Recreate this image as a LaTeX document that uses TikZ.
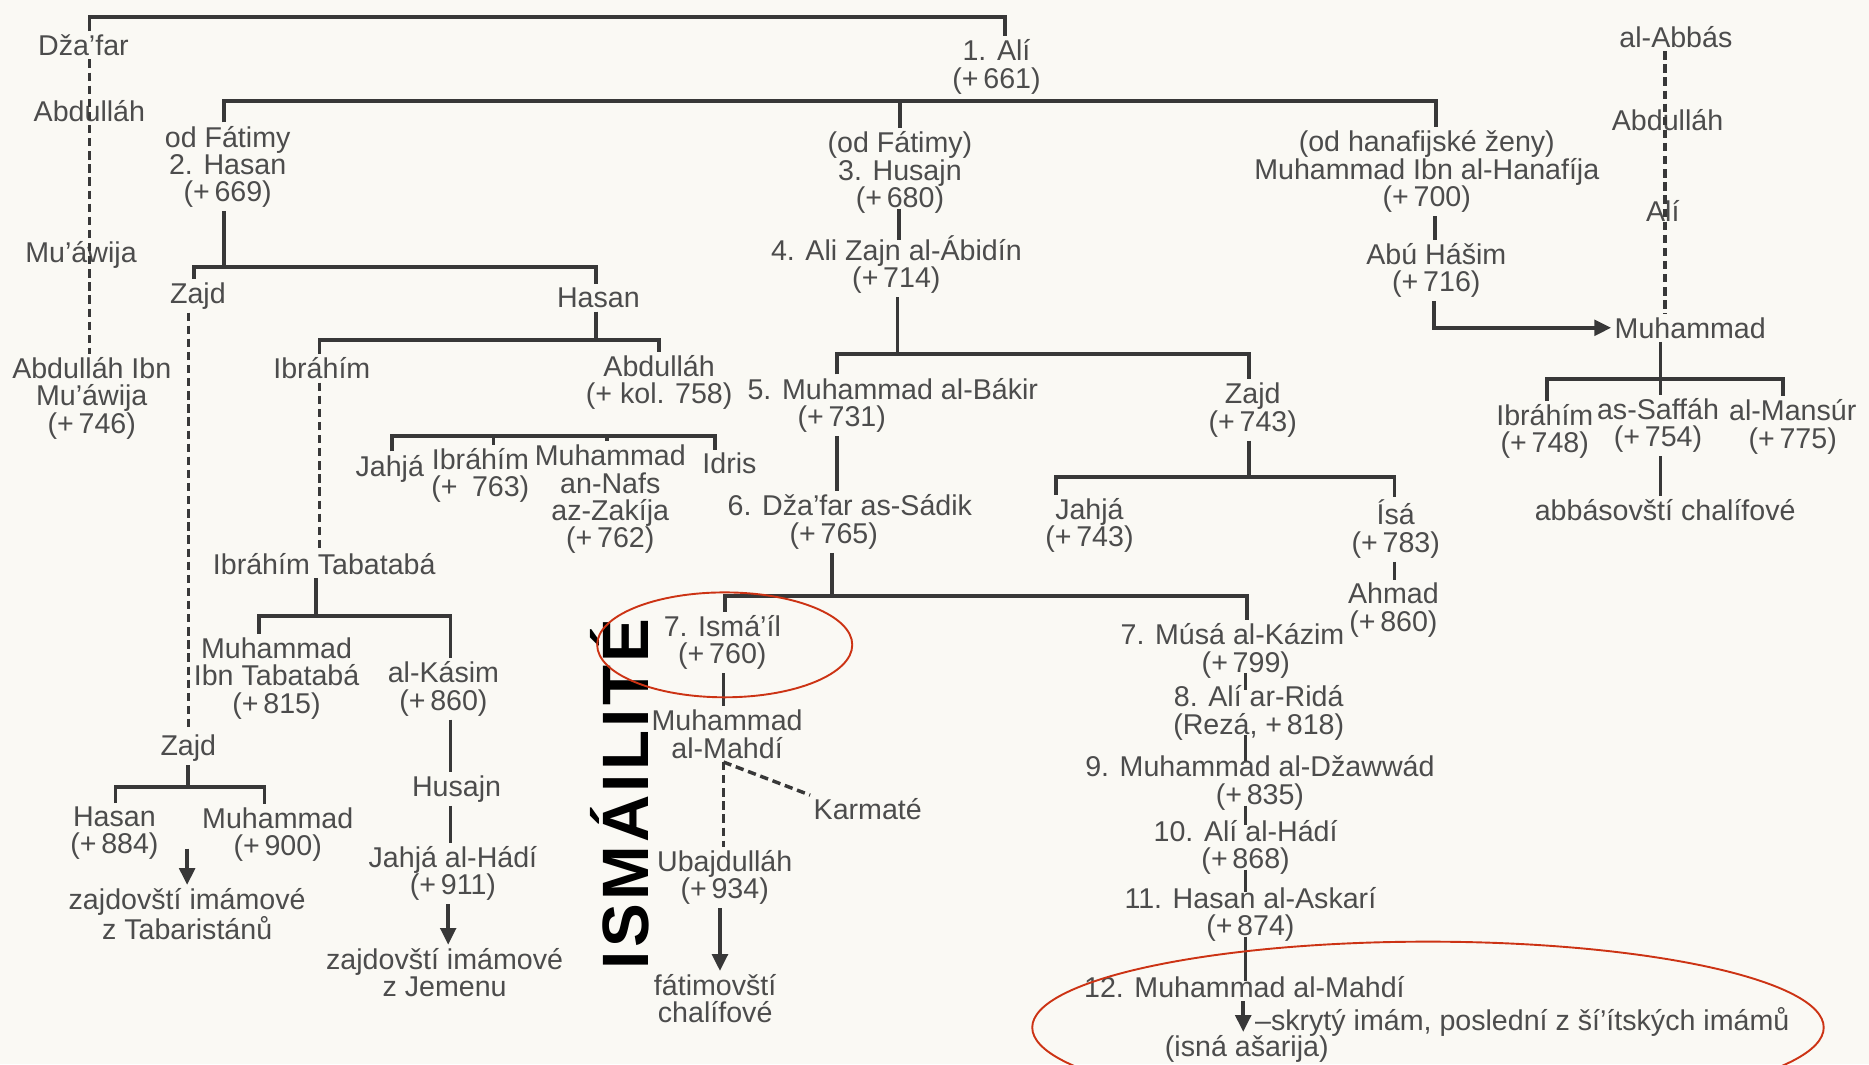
\documentclass[tikz,border=0pt]{standalone}
\usepackage{fontspec}
\setmainfont{Liberation Sans}
\usetikzlibrary{arrows.meta,calc}
\definecolor{ink}{HTML}{4C4C4C}
\definecolor{lin}{HTML}{383838}
\definecolor{paper}{HTML}{FAF9F4}
\definecolor{redl}{HTML}{CC3314}
\begin{document}
\begin{tikzpicture}[x=1pt,y=-1pt,
  every node/.style={font=\fontsize{24}{23}\selectfont, text=ink, inner sep=0pt, outer sep=3pt, align=center},
  ln/.style={draw=lin, line width=3.1pt},
  thru/.style={ln, shorten <=-7pt, shorten >=-7pt},
  dl/.style={draw=lin, line width=2.9pt, dash pattern=on 7pt off 4pt},
  ar/.style={ln, -{Triangle[length=14pt,width=13pt]}},
  ring/.style={draw=redl, line width=1.6pt},
  title/.style={font=\fontsize{55}{55}\selectfont\bfseries\addfontfeatures{LetterSpace=5}, text=black, rotate=90}]
\useasboundingbox (0,0) rectangle (1568,893);
\fill[paper] (0,0) rectangle (1568,893);
\clip (0,0) rectangle (1568,893);

% ---------- nodes ----------
\node (dzafar) at (70,38) {Dža’far};
\node (abd1) at (75,93) {Abdulláh};
\node (muaw) at (68,214) {Mu’áwija};
\node (abdibn) at (77,334) {Abdulláh Ibn\\Mu’áwija\\(+\,746)};

\node (ali) at (836,56) {1. Alí\\(+\,661)};
\node (hasan) at (191,140) {od Fátimy\\2. Hasan\\(+\,669)};
\node (husajn) at (755,145) {(od Fátimy)\\3. Husajn\\(+\,680)};
\node (hanaf) at (1197,144) {(od hanafijské ženy)\\Muhammad Ibn al-Hanafíja\\(+\,700)};

\node (zajd1) at (166,248) {Zajd};
\node (hasanb) at (502,250) {Hasan};
\node (ibr1) at (270,309) {Ibráhím};
\node (abd2) at (553,321) {Abdulláh\\(+ kol. 758)};
\node (jahja1) at (327,393) {Jahjá};
\node (ibr2) at (403,399) {Ibráhím\\(+\enspace 763)};
\node (nafs) at (512,419) {Muhammad\\an-Nafs\\az-Zakíja\\(+\,762)};
\node (idris) at (612,389) {Idris};
\node (tabat) at (272,473) {Ibráhím Tabatabá};
\node (mtab) at (232,569) {Muhammad\\Ibn Tabatabá\\(+\,815)};
\node (kasim) at (372,578) {al-Kásim\\(+\,860)};
\node (husajn2) at (383,662) {Husajn};
\node (hadi) at (380,733) {Jahjá al-Hádí\\(+\,911)};
\node (jemen) at (373,816) {zajdovští imámové\\z Jemenu};
\node (zajd2) at (158,628) {Zajd};
\node (hasanc) at (96,699) {Hasan\\(+\,884)};
\node (muh900) at (233,700) {Muhammad\\(+\,900)};
\node (tabar) at (157,767) {zajdovští imámové\\z Tabaristánů};

\node (zajn) at (752,222) {4. Ali Zajn al-Ábidín\\(+\,714)};
\node[align=left] (bakir) at (749,340) {5. Muhammad al-Bákir\\\hspace*{42pt}(+\,731)};
\node[align=left] (sadik) at (713,438) {6. Dža’far as-Sádik\\\hspace*{52pt}(+\,765)};
\node (ismail) at (606,539) {7. Ismá’íl\\(+\,760)};
\node (mahdi1) at (610,616) {Muhammad\\al-Mahdí};
\node (karm) at (728,679) {Karmaté};
\node (ubaj) at (608,736) {Ubajdulláh\\(+\,934)};
\node (fatim) at (600,838) {fátimovští\\chalífové};
\node[title] (ismt) at (520,666) {ISMÁILITÉ};

\node (zajd3) at (1051,344) {Zajd\\(+\,743)};
\node (jahja2) at (914,441) {Jahjá\\(+\,743)};
\node (isa) at (1171,444) {Ísá\\(+\,783)};
\node (ahmad) at (1169,512) {Ahmad\\(+\,860)};

\node[align=left] (musa) at (1034,546) {7. Músá al-Kázim\\\hspace*{68pt}(+\,799)};
\node (rida) at (1056,598) {8. Alí ar-Ridá\\(Rezá, +\,818)};
\node (dzaw) at (1057,657) {9. Muhammad al-Džawwád\\(+\,835)};
\node (hadi2) at (1045,711) {10. Alí al-Hádí\\(+\,868)};
\node (askari) at (1049,767) {11. Hasan al-Askarí\\(+\,874)};
\node (mahdi12) at (1044,828) {12. Muhammad al-Mahdí};
\node[anchor=west] (skryty) at (1050,857) {–skrytý imám, poslední z ší’ítských imámů};
\node (isna) at (1046,880) {(isná ašarija)};

\node (abuh) at (1205,227) {Abú Hášim\\(+\,716)};
\node (abbas) at (1406,31) {al-Abbás};
\node (abd3) at (1399,101) {Abdulláh};
\node (ali2) at (1395,177) {Alí};
\node (muh3) at (1418,275) {Muhammad};
\node (ibr3) at (1296,362) {Ibráhím\\(+\,748)};
\node (saff) at (1391,357) {as-Saffáh\\(+\,754)};
\node (mans) at (1504,358) {al-Mansúr\\(+\,775)};
\node (abbch) at (1397,428) {abbásovští chalífové};

% ---------- junction coordinates ----------
\coordinate (t1) at (75,14);   \coordinate (t2) at (843,14);
\coordinate (b2l) at (188,85); \coordinate (b2m) at (755,85); \coordinate (b2r) at (1205,85);
\coordinate (b3l) at (163,224); \coordinate (b3m) at (188,224); \coordinate (b3r) at (500,224);
\coordinate (b4l) at (97,660); \coordinate (b4m) at (158,660); \coordinate (b4r) at (222,660);
\coordinate (b5l) at (268,285); \coordinate (b5m) at (500,285); \coordinate (b5r) at (553,285);
\coordinate (b6a) at (329,366); \coordinate (b6b) at (414,366); \coordinate (b6c) at (509,366); \coordinate (b6d) at (600,366);
\coordinate (b7l) at (217,517); \coordinate (b7m) at (265,517); \coordinate (b7r) at (378,517);
\coordinate (b8l) at (702,297); \coordinate (b8m) at (753,297); \coordinate (b8r) at (1048,297);
\coordinate (b9l) at (608,500); \coordinate (b9m) at (698,500); \coordinate (b9r) at (1046,500);
\coordinate (b10l) at (886,400); \coordinate (b10m) at (1048,400); \coordinate (b10r) at (1170,400);
\coordinate (b11l) at (1298,318); \coordinate (b11m) at (1393,318); \coordinate (b11r) at (1496,318);
\coordinate (a1) at (157,712);
\coordinate (xb) at (376,0); \coordinate (xc) at (604,0);
\coordinate (xd) at (1045,0); \coordinate (xe) at (1043,0); \coordinate (xf) at (1204,0);
\coordinate (xg) at (1397,0); \coordinate (xh) at (607,0); \coordinate (xi) at (754,0);
\coordinate (c1) at (1203,274);

% ---------- connectors ----------
\draw[ln] (dzafar.north -| t1) -- (t1) -- (t2) -- (ali.north -| t2);
\draw[dl] (dzafar.south -| t1) -- (abdibn.north -| t1);
\draw[ln] (hasan.north -| b2l) -- (b2l) -- (b2r) -- (hanaf.north -| b2r);
\draw[ln] (b2m) -- (husajn.north -| b2m);

\draw[ln] (hasan.south -| b3m) -- (b3m);
\draw[ln] (zajd1.north -| b3l) -- (b3l) -- (b3r) -- (hasanb.north -| b3r);
\draw[dl] (zajd1.south -| zajd2) -- (zajd2.north);
\draw[ln] (zajd2.south -| b4m) -- (b4m);
\draw[ln] (hasanc.north -| b4l) -- (b4l) -- (b4r) -- (muh900.north -| b4r);
\draw[ar] (a1) -- (tabar.north -| a1);

\draw[ln] (hasanb.south -| b5m) -- (b5m);
\draw[ln] (ibr1.north -| b5l) -- (b5l) -- (b5r) -- (abd2.north -| b5r);
\draw[ln] (jahja1.north -| b6a) -- (b6a) -- (b6d) -- (idris.north -| b6d);
\draw[ln] (b6b) -- (ibr2.north -| b6b);
\draw[ln] (b6c) -- (nafs.north -| b6c);
\draw[dl] (ibr1.south -| b5l) -- (tabat.north -| b5l);
\draw[ln] (tabat.south -| b7m) -- (b7m);
\draw[ln] (mtab.north -| b7l) -- (b7l) -- (b7r) -- (kasim.north -| b7r);
\draw[ln] (kasim.south -| b7r) -- (husajn2.north -| b7r);
\draw[ln] (husajn2.south -| b7r) -- (hadi.north -| b7r);
\draw[ar] (hadi.south -| xb) -- (jemen.north -| xb);

\draw[thru] (husajn.south -| xi) -- (zajn.north -| xi);
\draw[ln] (zajn.south -| b8m) -- (b8m);
\draw[ln] (bakir.north -| b8l) -- (b8l) -- (b8r) -- (zajd3.north -| b8r);
\draw[ln] (bakir.south -| b8l) -- (sadik.north -| b8l);
\draw[ln] (sadik.south -| b9m) -- (b9m);
\draw[ln] (ismail.north -| b9l) -- (b9l) -- (b9r) -- (musa.north -| b9r);
\draw[ln] (ismail.south -| xh) -- (mahdi1.north -| xh);
\draw[dl] (mahdi1.south -| xh) -- (ubaj.north -| xh);
\draw[dl] (mahdi1.south -| xh) -- (karm.north west);
\draw[ar] (ubaj.south -| xc) -- (fatim.north -| xc);

\draw[ln] (zajd3.south -| b10m) -- (b10m);
\draw[ln] (jahja2.north -| b10l) -- (b10l) -- (b10r) -- (isa.north -| b10r);
\draw[ln] (isa.south -| b10r) -- (ahmad.north -| b10r);

\draw[thru] (musa.south -| xd) -- (rida.north -| xd);
\draw[thru] (rida.south -| xd) -- (dzaw.north -| xd);
\draw[thru] (dzaw.south -| xd) -- (hadi2.north -| xd);
\draw[thru] (hadi2.south -| xd) -- (askari.north -| xd);
\draw[thru] (askari.south -| xd) -- (mahdi12.north -| xd);
\draw[ar] (mahdi12.south -| xe) -- (isna.north -| xe);

\draw[ln] (hanaf.south -| xf) -- (abuh.north -| xf);
\draw[ar] (abuh.south -| c1) |- (muh3.west);
\draw[dl] (abbas.south -| xg) -- (muh3.north -| xg);
\draw[ln] (muh3.south -| b11m) -- (b11m);
\draw[ln] (ibr3.north -| b11l) -- (b11l) -- (b11r) -- (mans.north -| b11r);
\draw[ln] (b11m) -- (saff.north -| b11m);
\draw[ln] (saff.south -| b11m) -- (abbch.north -| b11m);

% ---------- red annotation rings ----------
\draw[ring] (608,541) ellipse [x radius=107pt, y radius=44pt];
\draw[ring] (1198,862) ellipse [x radius=332pt, y radius=72pt];
\end{tikzpicture}
\end{document}
